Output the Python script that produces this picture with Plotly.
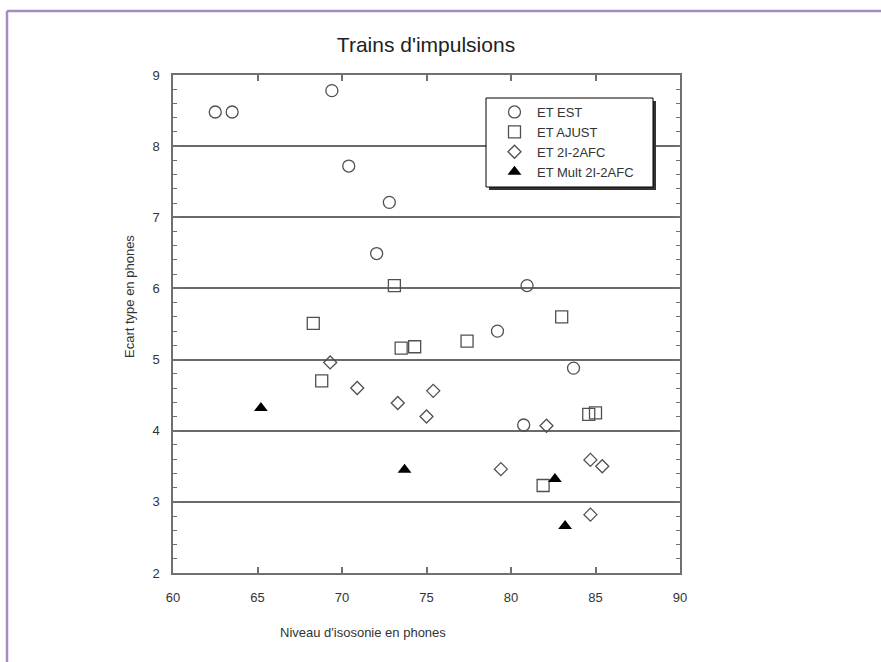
import plotly.graph_objects as go

# Data
est_x = [62.5, 63.5, 69.4, 70.4, 72.8, 72.05, 80.95, 79.2, 83.7, 80.75]
est_y = [8.48, 8.48, 8.78, 7.72, 7.21, 6.49, 6.04, 5.40, 4.88, 4.08]

ajust_x = [73.1, 68.3, 73.5, 74.3, 68.8, 83.0, 77.4, 84.6, 85.0, 81.9]
ajust_y = [6.04, 5.51, 5.16, 5.18, 4.70, 5.60, 5.26, 4.23, 4.25, 3.23]

afc_x = [69.3, 70.9, 75.4, 73.3, 75.0, 82.1, 79.4, 84.7, 85.4, 84.7]
afc_y = [4.96, 4.60, 4.56, 4.39, 4.20, 4.07, 3.46, 3.59, 3.50, 2.82]

mult_x = [65.2, 73.7, 82.6, 83.2]
mult_y = [4.32, 3.45, 3.32, 2.66]

series_names = ["ET EST", "ET AJUST", "ET 2I-2AFC", "ET Mult 2I-2AFC"]
x_ticks = [60, 65, 70, 75, 80, 85, 90]
y_ticks = [2, 3, 4, 5, 6, 7, 8, 9]

W, H = 881, 662
L, R, T, B = 173, 680, 75, 573


def px_x(p):
    return (p - L) / (R - L)


def px_y(p):
    return (B - p) / (B - T)


mk_line = dict(color="#505050", width=1.3)
fig = go.Figure()
fig.add_trace(go.Scatter(x=est_x, y=est_y, mode="markers", name=series_names[0],
                         marker=dict(symbol="circle-open", size=12, line=mk_line, color="#505050")))
fig.add_trace(go.Scatter(x=ajust_x, y=ajust_y, mode="markers", name=series_names[1],
                         marker=dict(symbol="square-open", size=12, line=mk_line, color="#505050")))
fig.add_trace(go.Scatter(x=afc_x, y=afc_y, mode="markers", name=series_names[2],
                         marker=dict(symbol="diamond-open", size=10, line=mk_line, color="#505050")))
fig.add_trace(go.Scatter(x=mult_x, y=mult_y, mode="markers", name=series_names[3],
                         marker=dict(symbol="triangle-up", size=12, color="black", line=dict(width=0))))

axis_col = "#707070"
font_col = "#333333"
fam = "Liberation Sans, Arial, sans-serif"

fig.update_xaxes(range=[60, 90], tickvals=x_ticks, ticktext=[str(v) for v in x_ticks],
                 ticks="inside", ticklen=6, tickwidth=1.5, tickcolor=axis_col,
                 showline=True, linecolor=axis_col, linewidth=1.5, mirror="ticks",
                 showgrid=False, zeroline=False, ticklabelstandoff=12,
                 tickfont=dict(size=13, color=font_col, family=fam))
fig.update_yaxes(range=[2, 9], tickvals=y_ticks, ticktext=[str(v) for v in y_ticks],
                 ticks="inside", ticklen=6, tickwidth=1.5, tickcolor=axis_col,
                 showline=True, linecolor=axis_col, linewidth=1.5, mirror="ticks",
                 showgrid=True, gridcolor="#6a6a6a", gridwidth=1.5, zeroline=False,
                 minor=dict(dtick=0.2, ticks="inside", ticklen=4, tickwidth=1.2,
                            tickcolor=axis_col, showgrid=False),
                 ticklabelstandoff=9,
                 tickfont=dict(size=13, color=font_col, family=fam))

# frame lines and legend box with shadow
border_col = "#a68bc5"
shapes = [
    dict(type="line", xref="paper", yref="paper", x0=px_x(7), x1=px_x(W + 5),
         y0=px_y(11), y1=px_y(11), line=dict(color=border_col, width=2.5)),
    dict(type="line", xref="paper", yref="paper", x0=px_x(7), x1=px_x(7),
         y0=px_y(11), y1=px_y(H + 5), line=dict(color=border_col, width=2.5)),
    dict(type="rect", xref="paper", yref="paper", x0=px_x(489), x1=px_x(656),
         y0=px_y(101), y1=px_y(190), fillcolor="#333333", line=dict(width=0), layer="above"),
    dict(type="rect", xref="paper", yref="paper", x0=px_x(486), x1=px_x(653),
         y0=px_y(98), y1=px_y(187), fillcolor="white", line=dict(color="black", width=1),
         layer="above"),
]

annotations = [
    dict(text="Ecart type en phones", xref="paper", yref="paper", x=px_x(129), y=px_y(297),
         textangle=-90, showarrow=False, xanchor="center", yanchor="middle",
         font=dict(size=13, color=font_col, family=fam)),
    dict(text="Niveau d'isosonie en phones", xref="paper", yref="paper", x=px_x(363), y=px_y(632),
         showarrow=False, xanchor="center", yanchor="middle",
         font=dict(size=13, color=font_col, family=fam)),
]

fig.update_layout(
    width=W, height=H,
    margin=dict(l=L, r=W - R, t=T, b=H - B, pad=0),
    paper_bgcolor="white", plot_bgcolor="white",
    title=dict(text="Trains d'impulsions", x=px_x(426), xref="paper", xanchor="center",
               y=1 - 45 / H, yanchor="middle", font=dict(size=21, color="#222222", family=fam)),
    showlegend=True,
    legend=dict(x=px_x(492), y=px_y(97), xanchor="left", yanchor="top",
                bgcolor="rgba(0,0,0,0)", borderwidth=0,
                font=dict(size=13, color=font_col, family=fam),
                itemwidth=35, tracegroupgap=0),
    shapes=shapes, annotations=annotations,
)

fig.write_html("out.html")
